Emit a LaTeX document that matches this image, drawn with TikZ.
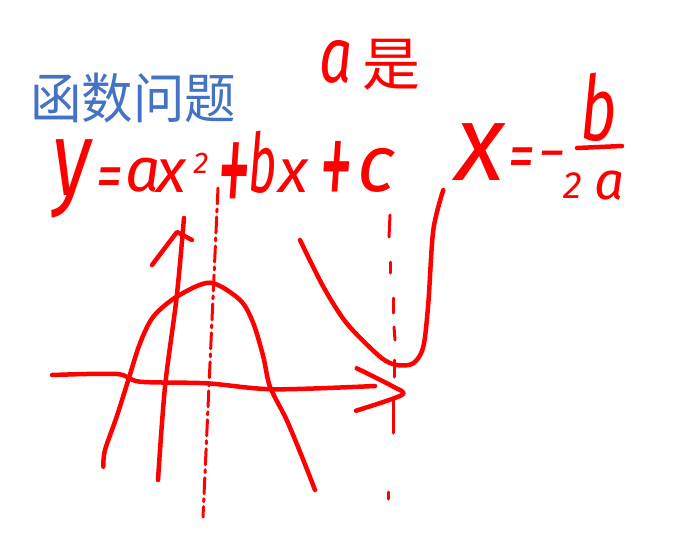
\documentclass[tikz,border=0pt]{standalone}
\usepackage{fontspec}
\usepackage{graphicx}
\newfontfamily\cjk{Noto Sans CJK SC}
\newfontfamily\hand{Fira Sans}
\definecolor{titleblue}{HTML}{4472C4}
\definecolor{inkred}{HTML}{FF0000}
\newcommand{\glc}[3]{\resizebox*{#1pt}{#2pt}{\cjk #3}}
\newcommand{\hw}[1]{\fontsize{#1}{#1}\selectfont\hand\itshape}
\tikzset{
  glyph/.style={text=inkred, inner sep=0pt, outer sep=0pt, anchor=south},
  ink/.style={draw=inkred, line width=4.5pt, line cap=round, line join=round},
  dashink/.style={draw=inkred, line width=3pt, line cap=round},
}
\begin{document}
\begin{tikzpicture}[x=1pt,y=-1pt]
\useasboundingbox[fill=white] (0,0) rectangle (688,557);

% title
\node[anchor=north west, inner sep=0pt, text=titleblue] (title) at (30,73)
  {\glc{206}{50}{函数问题}};

% y = ax^2 + bx + c
\node[glyph, anchor=north, xscale=0.75, font=\hw{106}] (ey) at (72,140) {y};
\node[glyph, xscale=0.8, font=\hw{66}] (eq1) at (110,198) {=};
\node[glyph, font=\hw{62}] (ea)  at (143,192) {a};
\node[glyph, font=\hw{62}] (ex)  at (171,192) {x};
\node[glyph, font=\hw{30}] (esq) at (201,173) {2};
\node[glyph, xscale=0.45, font=\hw{150}] (ep1) at (234,220) {+};
\node[glyph, xscale=0.6, font=\hw{82}] (eb) at (263,193) {b};
\node[glyph, font=\hw{62}] (ex2) at (293,192) {x};
\node[glyph, xscale=0.5, font=\hw{135}] (ep2) at (336,211) {+};
\node[glyph, font=\hw{80}] (ec)  at (376,192) {c};

% a 是
\node[glyph, xscale=0.75, font=\hw{78}] (aa) at (336,83) {a};
\node[anchor=center, inner sep=0pt, text=inkred, font=\cjk\fontsize{58}{58}\selectfont] (shi) at (391,65) {是};

% x = -b/2a
\node[glyph, xscale=0.95, font=\hw{108}] (vx)  at (480,180) {x};
\node[glyph, xscale=0.8, font=\hw{66}]  (veq) at (522,178) {=};
\node[glyph, font=\hw{55}]  (vm)  at (552,171) {−};
\node[glyph, xscale=0.7, font=\hw{90}] (vb) at (599,142) {b};
\node[glyph, font=\hw{38}]  (v2)  at (573,198) {2};
\node[glyph, font=\hw{53}]  (va)  at (610,200) {a};
\draw[ink] (577,148) -- (622,146);

% dash-dotted axis of symmetry (left)
\draw[dashink, dash pattern=on 16pt off 5pt on 3pt off 5pt] (218,188) -- (203,517);

% dashed axis of symmetry (right)
\draw[dashink] (390,215) -- (389,237);
\draw[dashink] (390,262) -- (390,273);
\draw[dashink] (393,298) -- (393,313);
\draw[dashink] (394,327) -- (395,340);
\draw[dashink] (394,360) -- (394,377);
\draw[dashink] (393,400) -- (393,433);
\draw[dashink] (388,492) -- (388,499);

% x axis
\draw[ink] plot[smooth] coordinates {(52,375) (117,374) (140,381.7) (206.7,383.3) (273.3,389.3) (375,386)};
\draw[ink] plot[smooth] coordinates {(356.7,368.3) (393.3,386.7) (401.7,395) (356,410.7)};

% y axis
\draw[ink] plot[smooth] coordinates {(184,218) (176.7,296.7) (165,386.7) (158,480)};
\draw[ink] (152,265) -- (177,232) -- (192,240);

% downward parabola
\draw[ink] plot[smooth] coordinates {(103.3,466.7) (105,450) (116.7,416.7) (128.3,380) (140,343.3) (153.3,316.7) (176.7,296.7) (210,282.7) (240,300) (253.3,323.3) (263.3,356.7) (270,386.7) (286.7,420) (303.3,460) (315,490)};

% upward parabola
\draw[ink] plot[smooth] coordinates {(300,240) (323.3,286.7) (346.7,323.3) (380,356.7) (396.7,365) (413.3,363.3) (423.3,346.7) (428.3,303.3) (433.3,230) (443.3,190)};
\end{tikzpicture}
\end{document}
